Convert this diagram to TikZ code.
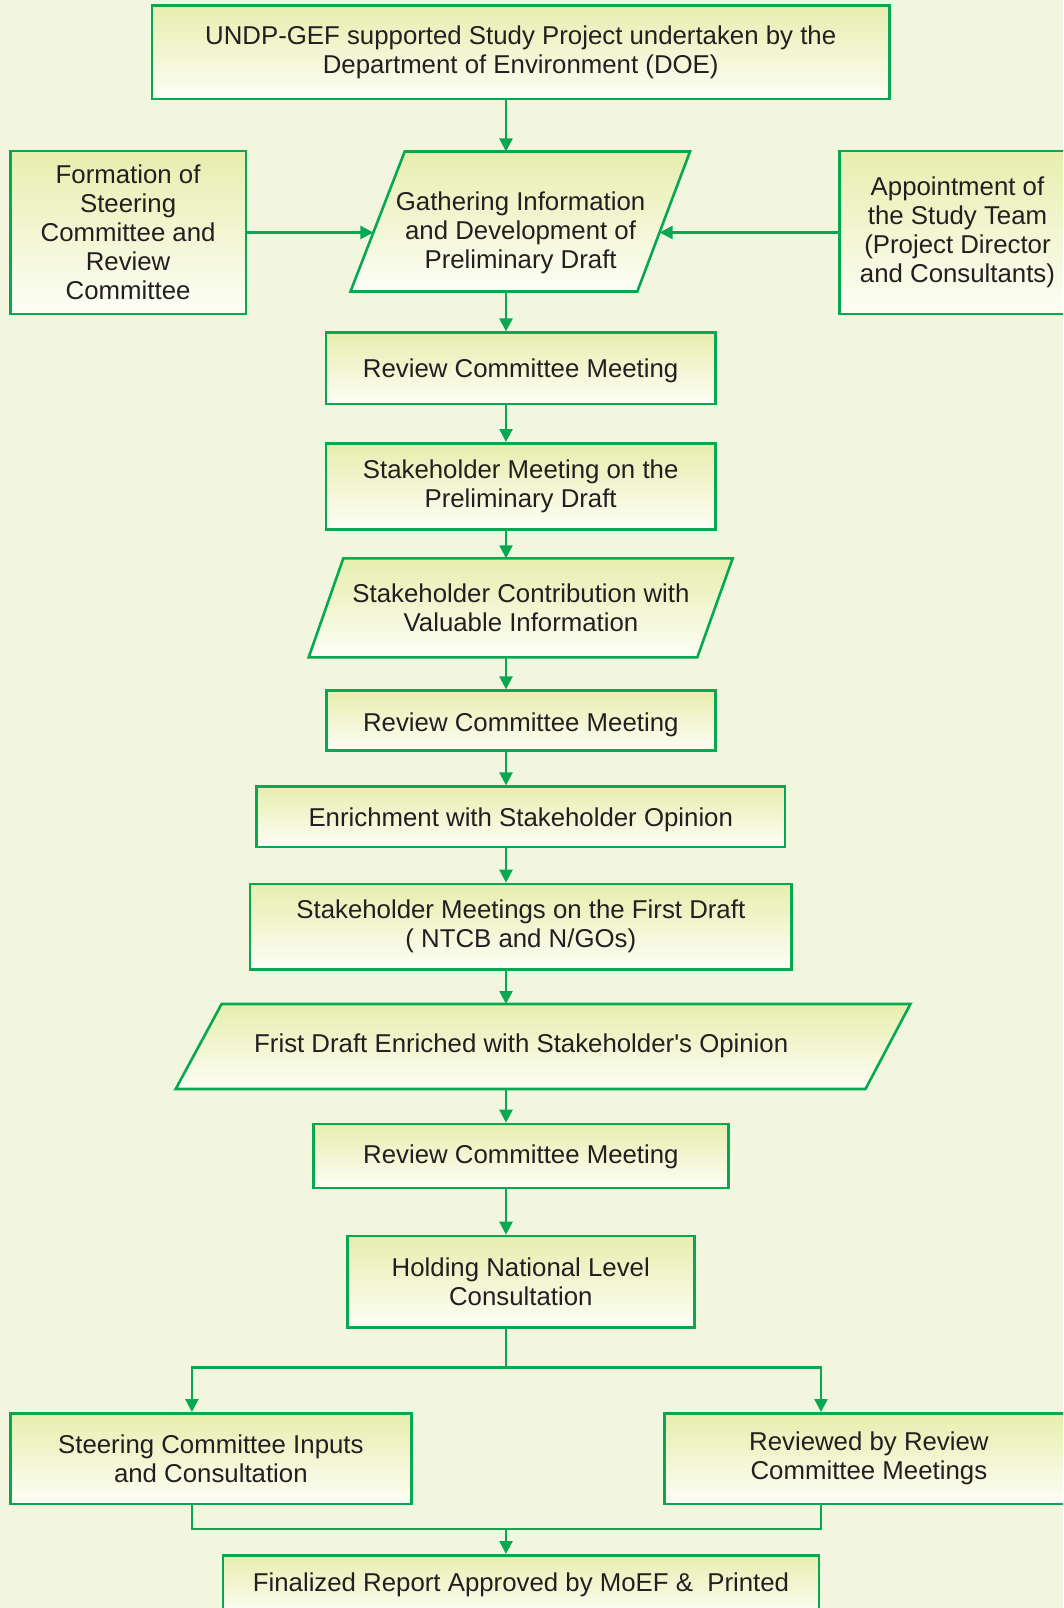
\documentclass[tikz,border=0pt]{standalone}
\usepackage{fontspec}
\setmainfont{Liberation Sans}[Ligatures=TeXOff]
\usetikzlibrary{arrows.meta}
\definecolor{bgc}{RGB}{242,246,223}
\definecolor{lgreen}{RGB}{8,168,82}
\definecolor{gtop}{RGB}{231,238,174}
\definecolor{gbot}{RGB}{253,254,246}
\definecolor{tcol}{RGB}{35,31,32}
\newcommand\boxfont{\fontsize{25.8}{29}\selectfont}
\tikzset{
  box/.style={rectangle, draw=lgreen, line width=2.6pt, top color=gtop, bottom color=gbot,
    text=tcol, font=\boxfont, align=center, inner sep=0pt},
  txt/.style={text=tcol, font=\boxfont, align=center, inner sep=0pt},
  pshape/.style={draw=lgreen, line width=2.6pt, top color=gtop, bottom color=gbot, line join=miter},
  conn/.style={draw=lgreen, line width=2.4pt},
  arr/.style={conn, -{Triangle[length=13pt,width=13pt]}},
}
\begin{document}
\begin{tikzpicture}[x=1pt,y=-1pt]
\useasboundingbox (0,0) rectangle (1063,1608);
\fill[bgc] (0,0) rectangle (1063,1608);
\begin{scope}
\clip (0,0) rectangle (1063,1608);
% columns
\coordinate (spine) at (506,0);
\coordinate (lcol) at (191.9,0);
\coordinate (rcol) at (821,0);

% top
\node[box, minimum width=737.6pt, minimum height=93.7pt] (top) at (520.7,52.2)
  {UNDP-GEF supported Study Project undertaken by the\\Department of Environment (DOE)};
% side boxes
\node[box, minimum width=235.8pt, minimum height=163pt] (form) at (128.1,232.5)
  {Formation of\\Steering\\Committee and\\Review\\Committee};
\node[box, minimum width=236.4pt, minimum height=163pt] (appoint) at (957.5,232.5)
  {Appointment of\\the Study Team\\(Project Director\\and Consultants)};
% gathering parallelogram
\path[pshape] (404.7,151.5) -- (690,151.5) -- (637.3,291.5) -- (350.5,291.5) -- cycle;
\node[txt] (gath) at (520.6,232.5) {Gathering Information\\and Development of\\Preliminary Draft};
\coordinate (gath-n) at (506,151.5);
\coordinate (gath-s) at (506,291.5);
\coordinate (gath-w) at (373.4,232.5);
\coordinate (gath-e) at (659.6,232.5);

\node[box, minimum width=389.3pt, minimum height=71.3pt, text height=18pt, text depth=0pt] (rev1) at (520.65,368.35)
  {Review Committee Meeting};
\node[box, minimum width=389.3pt, minimum height=86pt] (stake1) at (520.65,486.3)
  {Stakeholder Meeting on the\\Preliminary Draft};
% contribution parallelogram
\path[pshape] (343.3,558.3) -- (732.7,558.3) -- (697.3,657.3) -- (308.7,657.3) -- cycle;
\node[txt] (contrib) at (521,607.8) {Stakeholder Contribution with\\Valuable Information};
\coordinate (contrib-n) at (506,558.3);
\coordinate (contrib-s) at (506,657.3);

\node[box, minimum width=389.2pt, minimum height=60pt, text height=20.6pt, text depth=0pt] (rev2) at (520.8,720.7)
  {Review Committee Meeting};
\node[box, minimum width=528.3pt, minimum height=60.3pt, text height=20pt, text depth=0pt] (enrich) at (520.75,816.85)
  {Enrichment with Stakeholder Opinion};
\node[box, minimum width=541.6pt, minimum height=85.3pt] (stmeet) at (520.8,926.65)
  {Stakeholder Meetings on the First Draft\\(\ NTCB and N/GOs)};
% frist draft parallelogram
\path[pshape] (221.6,1004) -- (910.4,1004) -- (865.5,1089) -- (175.7,1089) -- cycle;
\node[txt] (frist) at (521.2,1046.3) {Frist Draft Enriched with Stakeholder's Opinion};
\coordinate (frist-n) at (506,1004);
\coordinate (frist-s) at (506,1089);

\node[box, minimum width=414.8pt, minimum height=64pt, text height=18pt, text depth=2.6pt] (rev3) at (520.9,1156)
  {Review Committee Meeting};
\node[box, minimum width=347pt, minimum height=91.3pt] (holding) at (520.8,1281.65)
  {Holding National Level\\Consultation};
\node[box, minimum width=401.3pt, minimum height=90.7pt] (steer) at (210.85,1458.65)
  {Steering Committee Inputs\\and Consultation};
\node[box, minimum width=409pt, minimum height=90.7pt] (reviewed) at (868.9,1458.65)
  {Reviewed by Review\\Committee Meetings};
\node[box, minimum width=596pt, minimum height=58.4pt] (final) at (521,1584.5)
  {Finalized Report Approved by MoEF \&\ \ Printed};

\coordinate (split) at (506,1367.3);
\coordinate (merge) at (506,1529);

% connectors
\draw[arr] (top.south -| spine) -- (gath-n);
\draw[arr] (form.east) -- (gath-w);
\draw[arr] (appoint.west) -- (gath-e);
\draw[arr] (gath-s) -- (rev1.north -| spine);
\draw[arr] (rev1.south -| spine) -- (stake1.north -| spine);
\draw[arr] (stake1.south -| spine) -- (contrib-n);
\draw[arr] (contrib-s) -- (rev2.north -| spine);
\draw[arr] (rev2.south -| spine) -- (enrich.north -| spine);
\draw[arr] (enrich.south -| spine) -- (stmeet.north -| spine);
\draw[arr] (stmeet.south -| spine) -- (frist-n);
\draw[arr] (frist-s) -- (rev3.north -| spine);
\draw[arr] (rev3.south -| spine) -- (holding.north -| spine);
\draw[conn] (holding.south -| spine) -- (split);
\draw[arr] (split) -| (steer.north -| lcol);
\draw[arr] (split) -| (reviewed.north -| rcol);
\draw[conn, line join=miter] (steer.south -| lcol) |- (merge) -| (reviewed.south -| rcol);
\draw[arr] (merge) -- (final.north -| spine);
\end{scope}
\end{tikzpicture}
\end{document}
